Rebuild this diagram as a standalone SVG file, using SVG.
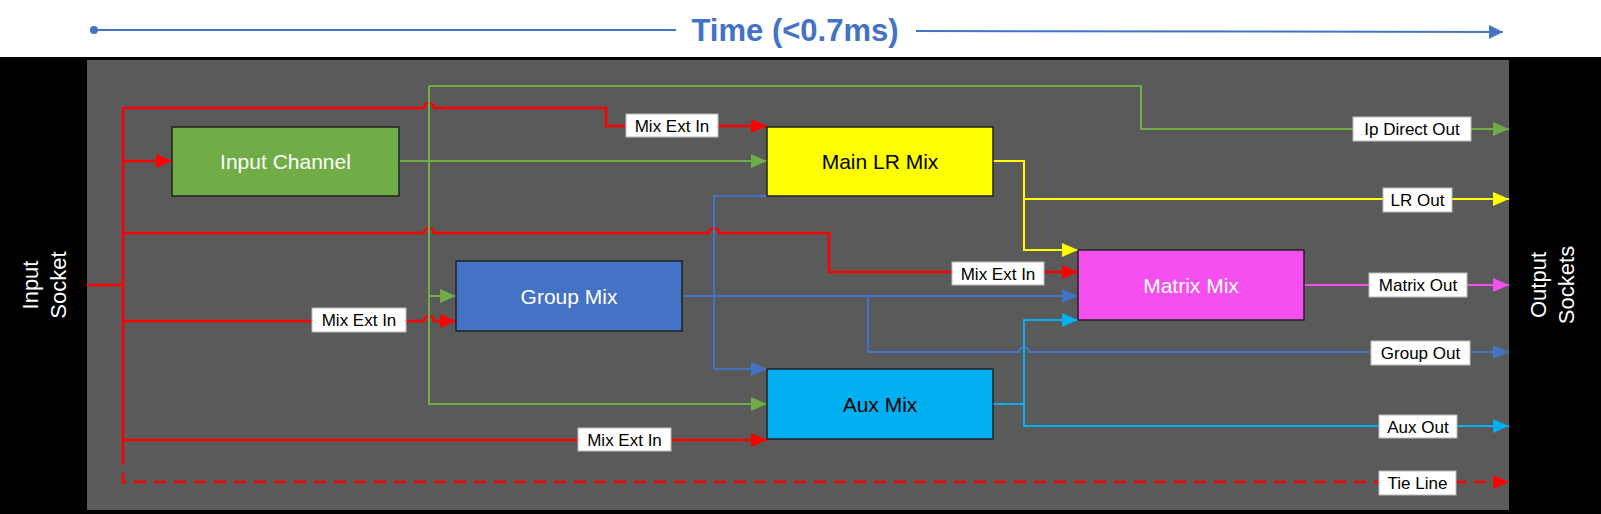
<svg xmlns="http://www.w3.org/2000/svg" width="1601" height="514" viewBox="0 0 1601 514">
<style>
.lbl{font-family:"Liberation Sans",Arial,sans-serif;font-size:17px;fill:#000}
.nt{font-family:"Liberation Sans",Arial,sans-serif;font-size:21px;text-anchor:middle;dominant-baseline:central}
.side{font-family:"Liberation Sans",Arial,sans-serif;font-size:22px;fill:#fff;text-anchor:middle}
.lb{fill:#fff;stroke:#bbb;stroke-width:1}
.c{fill:none}
.r{stroke:#ff0000;stroke-width:2.5}
.g{stroke:#70ad47;stroke-width:2}
.b{stroke:#4472c4;stroke-width:2}
.y{stroke:#ffff00;stroke-width:2}
.cy{stroke:#00b0f0;stroke-width:2}
.m{stroke:#f54ff0;stroke-width:2}
.box{stroke:#222;stroke-width:1.5}
</style>
<defs>
<marker id="ar" markerUnits="userSpaceOnUse" markerWidth="16" markerHeight="14" refX="16" refY="7" orient="auto"><path d="M0,0L16,7L0,14z" fill="#ff0000"/></marker>
<marker id="ag" markerUnits="userSpaceOnUse" markerWidth="16" markerHeight="14" refX="16" refY="7" orient="auto"><path d="M0,0L16,7L0,14z" fill="#70ad47"/></marker>
<marker id="ab" markerUnits="userSpaceOnUse" markerWidth="16" markerHeight="14" refX="16" refY="7" orient="auto"><path d="M0,0L16,7L0,14z" fill="#4472c4"/></marker>
<marker id="ay" markerUnits="userSpaceOnUse" markerWidth="16" markerHeight="14" refX="16" refY="7" orient="auto"><path d="M0,0L16,7L0,14z" fill="#ffff00"/></marker>
<marker id="ac" markerUnits="userSpaceOnUse" markerWidth="16" markerHeight="14" refX="16" refY="7" orient="auto"><path d="M0,0L16,7L0,14z" fill="#00b0f0"/></marker>
<marker id="am" markerUnits="userSpaceOnUse" markerWidth="16" markerHeight="14" refX="16" refY="7" orient="auto"><path d="M0,0L16,7L0,14z" fill="#f54ff0"/></marker>
<marker id="at" markerUnits="userSpaceOnUse" markerWidth="14" markerHeight="14" refX="14" refY="7" orient="auto"><path d="M0,0L14,7L0,14z" fill="#4472c4"/></marker>
</defs>
<rect width="1601" height="514" fill="#fff"/>
<g id="title">
<circle cx="94" cy="30" r="4" fill="#4472c4"/>
<line x1="94" y1="30" x2="676" y2="30" stroke="#4472c4" stroke-width="2"/>
<line x1="916" y1="31" x2="1503" y2="32" stroke="#4472c4" stroke-width="2" marker-end="url(#at)"/>
<text x="795" y="41" font-family="'Liberation Sans',Arial,sans-serif" font-size="31" font-weight="bold" fill="#4472c4" text-anchor="middle">Time (&lt;0.7ms)</text>
</g>
<rect x="0" y="57" width="1601" height="457" fill="#000"/>
<rect x="87" y="60" width="1422" height="450" fill="#5a5a5a"/>
<g id="input-socket"><text class="side" transform="translate(44,285) rotate(-90)"><tspan x="0" y="-6">Input</tspan><tspan x="0" y="22">Socket</tspan></text></g>
<g id="output-sockets"><text class="side" transform="translate(1552,285) rotate(-90)"><tspan x="0" y="-6">Output</tspan><tspan x="0" y="22">Sockets</tspan></text></g>
<g id="connectors">
<!-- red -->
<path class="c r" d="M87,285H123M123,108V453"/>
<path class="c r" d="M123,453V482H1509" stroke-dasharray="12,8" marker-end="url(#ar)"/>
<path class="c r" d="M123,108H424a5,5 0 0 1 10,0H606V126H767" marker-end="url(#ar)"/>
<path class="c r" d="M123,161H172" marker-end="url(#ar)"/>
<path class="c r" d="M123,233H424a5,5 0 0 1 10,0H709a5,5 0 0 1 10,0H829V272H1078" marker-end="url(#ar)"/>
<path class="c r" d="M123,321H424a5,5 0 0 1 10,0H456" marker-end="url(#ar)"/>
<path class="c r" d="M123,440H767" marker-end="url(#ar)"/>
<!-- green -->
<path class="c g" d="M399,161H767" marker-end="url(#ag)"/>
<path class="c g" d="M429,86V404H767" marker-end="url(#ag)"/>
<path class="c g" d="M429,296H456" marker-end="url(#ag)"/>
<path class="c g" d="M429,86H1141V129H1509" marker-end="url(#ag)"/>
<!-- blue -->
<path class="c b" d="M682,296H1078" marker-end="url(#ab)"/>
<path class="c b" d="M767,196H714V369H767" marker-end="url(#ab)"/>
<path class="c b" d="M714,369H767" marker-end="url(#ab)"/>
<path class="c b" d="M868,296V352H1019a5,5 0 0 1 10,0H1509" marker-end="url(#ab)"/>
<!-- yellow -->
<path class="c y" d="M993,161H1024V250H1078" marker-end="url(#ay)"/>
<path class="c y" d="M1024,199H1509" marker-end="url(#ay)"/>
<!-- cyan -->
<path class="c cy" d="M993,404H1024V320H1078" marker-end="url(#ac)"/>
<path class="c cy" d="M1024,404V426H1509" marker-end="url(#ac)"/>
<!-- magenta -->
<path class="c m" d="M1304,285H1509" marker-end="url(#am)"/>
<!-- labels -->
<rect class="lb" x="626" y="114" width="92" height="23"/><text class="lbl" x="672" y="131.5" text-anchor="middle">Mix Ext In</text>
<rect class="lb" x="312" y="308" width="94" height="24"/><text class="lbl" x="359" y="326" text-anchor="middle">Mix Ext In</text>
<rect class="lb" x="578" y="428" width="93" height="23"/><text class="lbl" x="624.5" y="445.5" text-anchor="middle">Mix Ext In</text>
<rect class="lb" x="952" y="262" width="92" height="23"/><text class="lbl" x="998" y="279.5" text-anchor="middle">Mix Ext In</text>
<rect class="lb" x="1353" y="117" width="118" height="24"/><text class="lbl" x="1412" y="135" text-anchor="middle">Ip Direct Out</text>
<rect class="lb" x="1383" y="188" width="69" height="24"/><text class="lbl" x="1417.5" y="206" text-anchor="middle">LR Out</text>
<rect class="lb" x="1369" y="273" width="98" height="24"/><text class="lbl" x="1418" y="291" text-anchor="middle">Matrix Out</text>
<rect class="lb" x="1371" y="341" width="99" height="24"/><text class="lbl" x="1420.5" y="359" text-anchor="middle">Group Out</text>
<rect class="lb" x="1379" y="415" width="78" height="23"/><text class="lbl" x="1418" y="432.5" text-anchor="middle">Aux Out</text>
<rect class="lb" x="1379" y="471" width="77" height="24"/><text class="lbl" x="1417.5" y="489" text-anchor="middle">Tie Line</text>
</g>
<g id="input-channel"><rect class="box" x="172" y="127" width="227" height="69" fill="#70ad47"/><text class="nt" x="285.5" y="161.5" fill="#fff">Input Channel</text></g>
<g id="group-mix"><rect class="box" x="456" y="261" width="226" height="70" fill="#4472c4"/><text class="nt" x="569" y="296" fill="#fff">Group Mix</text></g>
<g id="main-lr-mix"><rect class="box" x="767" y="127" width="226" height="69" fill="#ffff00"/><text class="nt" x="880" y="161.5" fill="#000">Main LR Mix</text></g>
<g id="aux-mix"><rect class="box" x="767" y="369" width="226" height="70" fill="#00b0f0"/><text class="nt" x="880" y="404" fill="#000">Aux Mix</text></g>
<g id="matrix-mix"><rect class="box" x="1078" y="250" width="226" height="70" fill="#f54ff0"/><text class="nt" x="1191" y="285" fill="#fff">Matrix Mix</text></g>
</svg>
